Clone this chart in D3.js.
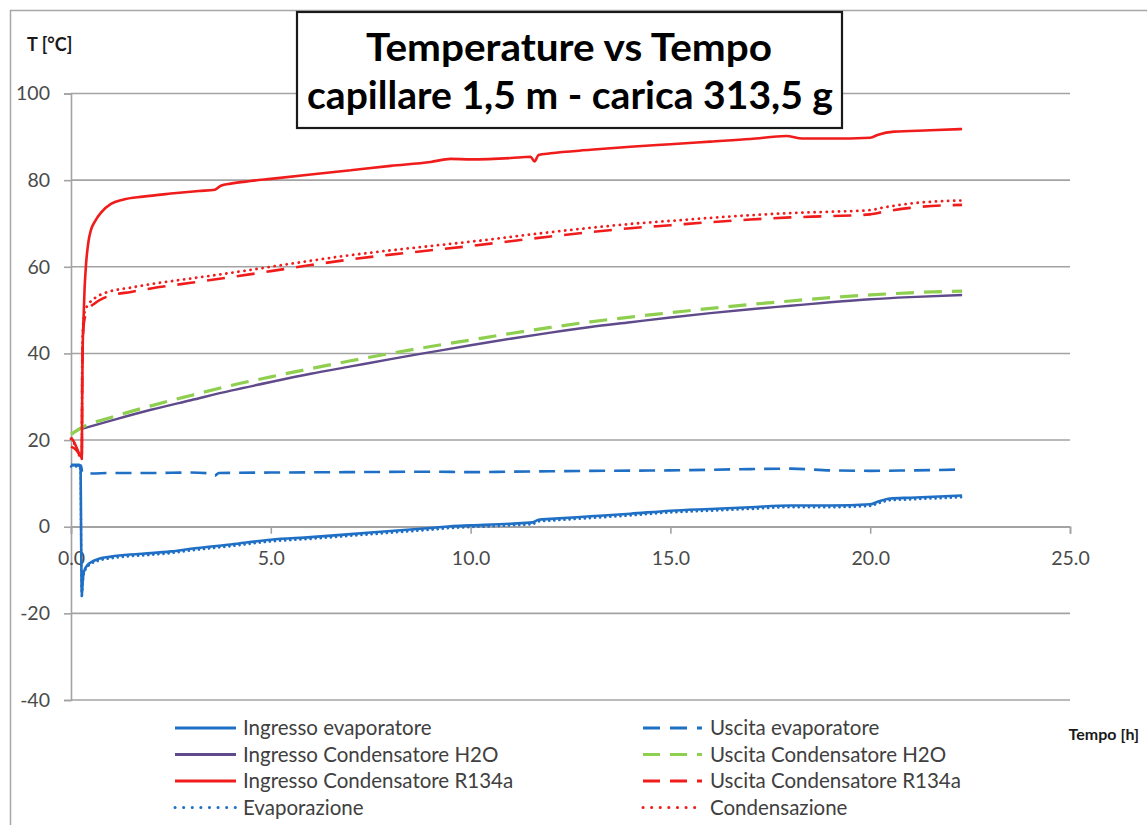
<!DOCTYPE html>
<html>
<head>
<meta charset="utf-8">
<script src="https://cdn.jsdelivr.net/npm/d3@7"></script>
<style>
  html, body { margin: 0; padding: 0; background: #fff; }
  svg { display: block; font-family: Lato, "Open Sans", sans-serif; }
</style>
</head>
<body>
<svg id="chart" width="1147" height="825"></svg>
<script>
// Temperature readings [time in h, temperature in °C] for each measuring point
const ingressoEvaporatore = [[0,14.3],[0.2,14.3],[0.24,13.5],[0.25,2],[0.26,-10],[0.27,-16],[0.29,-13],[0.32,-10.5],[0.4,-9],[0.5,-8.2],[0.7,-7.4],[1,-6.9],[1.5,-6.4],[2,-6.1],[2.5,-5.7],[3,-5.1],[4,-4.1],[5,-3.0],[6,-2.4],[7,-1.7],[8,-1.0],[9,-0.3],[9.5,0.1],[10,0.3],[11,0.7],[11.55,1.0],[11.7,1.6],[12,1.8],[13,2.4],[14,3.0],[15,3.7],[16,4.1],[17,4.5],[18,4.9],[19,4.9],[20,5.2],[20.2,5.8],[20.5,6.5],[21,6.7],[22.3,7.2]];
const uscitaEvaporatore = [[0,14.2],[0.25,14.1],[0.28,12.6],[0.5,12.3],[1,12.4],[2,12.4],[3,12.5],[3.5,12.3],[3.6,11.8],[3.7,12.4],[5,12.5],[7,12.6],[9,12.7],[10,12.6],[11,12.7],[12,12.8],[13,12.9],[15,13.0],[17,13.3],[18,13.4],[19,13.0],[20,12.9],[21,13.0],[22.3,13.2]];
const ingressoCondH2O = [[0.27,22.6],[1,24.5],[2,27],[3,29.2],[4,31.4],[5,33.4],[6,35.3],[7,37],[8,38.7],[9,40.3],[10,41.9],[11,43.4],[12,44.8],[13,46.1],[14,47.2],[15,48.3],[16,49.3],[17,50.2],[18,51],[19,51.8],[20,52.5],[21,53],[22.3,53.5]];
const uscitaCondH2O = [[0,21.3],[0.27,22.9],[1,25.2],[2,27.9],[3,30.3],[4,32.6],[5,34.6],[6,36.5],[7,38.3],[8,40],[9,41.6],[10,43.1],[11,44.6],[12,46],[13,47.3],[14,48.4],[15,49.4],[16,50.4],[17,51.3],[18,52.1],[19,52.9],[20,53.5],[21,54],[22.3,54.4]];
const ingressoCondR134a = [[0,18.5],[0.12,17.8],[0.22,16.6],[0.27,16],[0.28,30],[0.29,40],[0.31,47],[0.34,55],[0.38,61],[0.44,66],[0.5,68.5],[0.6,70.5],[0.75,72.5],[1,74.5],[1.3,75.5],[1.8,76.2],[2.5,76.9],[3.2,77.5],[3.6,77.8],[3.75,78.7],[4,79.2],[4.5,79.8],[5,80.3],[6,81.3],[7,82.3],[8,83.3],[9,84.2],[9.5,84.9],[10,84.8],[11,85.1],[11.5,85.4],[11.6,84.3],[11.7,85.8],[12,86.2],[13,87],[14,87.7],[15,88.3],[16,88.9],[17,89.5],[17.9,90.2],[18.3,89.6],[19,89.6],[20,89.8],[20.2,90.5],[20.6,91.2],[21.5,91.5],[22.3,91.8]];
const uscitaCondR134a = [[0,20.6],[0.08,19.5],[0.16,17.8],[0.24,16],[0.27,15.5],[0.28,35],[0.3,44],[0.34,48],[0.45,50.3],[0.6,51.6],[0.8,52.7],[1,53.4],[1.5,54.2],[2,55],[3,56.3],[4,57.6],[5,59],[6,60.4],[7,61.7],[8,62.8],[9,63.8],[10,64.8],[11,65.9],[12,67],[13,68],[14,68.9],[15,69.6],[16,70.3],[17,70.9],[18,71.4],[19,71.7],[20,72.1],[20.4,72.8],[21,73.6],[22.3,74.3]];
const evaporazione = [[0,13.9],[0.2,13.9],[0.24,13.1],[0.25,1.6],[0.26,-10.4],[0.27,-16.4],[0.29,-13.4],[0.32,-10.9],[0.4,-9.4],[0.5,-8.6],[0.7,-7.8],[1,-7.3],[1.5,-6.8],[2,-6.5],[2.5,-6.1],[3,-5.5],[4,-4.5],[5,-3.4],[6,-2.8],[7,-2.1],[8,-1.4],[9,-0.7],[9.5,-0.3],[10,-0.1],[11,0.3],[11.55,0.6],[11.7,1.2],[12,1.4],[13,2.0],[14,2.6],[15,3.3],[16,3.7],[17,4.1],[18,4.5],[19,4.5],[20,4.8],[20.2,5.4],[20.5,6.1],[21,6.3],[22.3,6.8]];
const condensazione = [[0,20.3],[0.08,19.2],[0.16,17.5],[0.24,15.8],[0.27,15.5],[0.28,38],[0.3,46],[0.34,49.5],[0.45,51.5],[0.6,52.8],[0.8,53.8],[1,54.4],[1.5,55.2],[2,56],[3,57.3],[4,58.6],[5,60],[6,61.4],[7,62.7],[8,63.8],[9,64.8],[10,65.8],[11,66.9],[12,68],[13,69],[14,69.9],[15,70.6],[16,71.3],[17,71.9],[18,72.4],[19,72.7],[20,73.1],[20.4,73.8],[21,74.6],[22.3,75.3]];

// Legend labels and axis ticks
const seriesNames = ["Ingresso evaporatore","Uscita evaporatore","Ingresso Condensatore H2O","Uscita Condensatore H2O","Ingresso Condensatore R134a","Uscita Condensatore R134a","Evaporazione","Condensazione"];
const xTicks = [0, 5, 10, 15, 20, 25];
const yTicks = [-40, -20, 0, 20, 40, 60, 80, 100];

const BLUE = "#1f6fc5", PURPLE = "#5f4a8b", GREEN = "#8fcf50", RED = "#f01c1c";
const styles = [
  { data: ingressoEvaporatore, color: BLUE,   width: 2.6, dash: null },
  { data: uscitaEvaporatore,   color: BLUE,   width: 2.6, dash: "16 9" },
  { data: ingressoCondH2O,     color: PURPLE, width: 2.4, dash: null },
  { data: uscitaCondH2O,       color: GREEN,  width: 3.2, dash: "18 10" },
  { data: ingressoCondR134a,   color: RED,    width: 2.6, dash: null },
  { data: uscitaCondR134a,     color: RED,    width: 2.6, dash: "18 12" },
  { data: evaporazione,        color: BLUE,   width: 2.6, dash: "0.1 5", cap: "round" },
  { data: condensazione,       color: RED,    width: 2.8, dash: "0.1 6", cap: "round" }
];

const svg = d3.select("#chart");

// outer chart frame
svg.append("rect").attr("x", 10.5).attr("y", 10.5).attr("width", 1160).attr("height", 840)
  .attr("fill", "#fff").attr("stroke", "#a6a6a6").attr("stroke-width", 1.5);

const x = d3.scaleLinear().domain([0, 25]).range([71, 1070]);
const y = d3.scaleLinear().domain([-40, 100]).range([700, 93.5]);

// horizontal gridlines
svg.append("g").selectAll("line").data(yTicks).join("line")
  .attr("x1", x(0)).attr("x2", x(25))
  .attr("y1", d => y(d)).attr("y2", d => y(d))
  .attr("stroke", "#a3a3a3").attr("stroke-width", 1.6);

// y axis (plain hyphen for negative values)
const yAxis = svg.append("g").attr("transform", `translate(${x(0)},0)`)
  .call(d3.axisLeft(y).tickValues(yTicks).tickSize(7).tickPadding(14).tickFormat(d => String(d)));
yAxis.select(".domain").attr("stroke", "#a3a3a3").attr("stroke-width", 1.6);
yAxis.selectAll(".tick line").attr("stroke", "#a3a3a3").attr("stroke-width", 1.6);
yAxis.selectAll("text").attr("fill", "#4a4a4a").style("font-size", "19.5px").style("font-family", "Lato");

// x axis crossing at 0 °C
const xAxis = svg.append("g").attr("transform", `translate(0,${y(0)})`)
  .call(d3.axisBottom(x).tickValues(xTicks).tickSize(7).tickPadding(17).tickFormat(d3.format(".1f")));
xAxis.select(".domain").attr("stroke", "#a3a3a3").attr("stroke-width", 1.6);
xAxis.selectAll(".tick line").attr("stroke", "#a3a3a3").attr("stroke-width", 1.6);
xAxis.selectAll("text").attr("fill", "#4a4a4a").style("font-size", "19.5px").style("font-family", "Lato");

// series lines
const line = d3.line().x(d => x(d[0])).y(d => y(d[1])).curve(d3.curveMonotoneX);
svg.append("g").selectAll("path").data(styles).join("path")
  .attr("d", d => line(d.data))
  .attr("fill", "none")
  .attr("stroke", d => d.color)
  .attr("stroke-width", d => d.width)
  .attr("stroke-dasharray", d => d.dash)
  .attr("stroke-linecap", d => d.cap || "butt")
  .attr("stroke-linejoin", "round");

// axis titles
svg.append("text").attr("x", 27).attr("y", 51).text("T [°C]")
  .style("font-size", "18px").style("font-weight", "bold").attr("fill", "#1a1a1a");
svg.append("text").attr("x", 1139).attr("y", 740).attr("text-anchor", "end").text("Tempo [h]")
  .style("font-size", "16px").style("font-weight", "bold").attr("fill", "#1a1a1a");

// title box
svg.append("rect").attr("x", 297).attr("y", 12).attr("width", 545).attr("height", 116)
  .attr("fill", "#fff").attr("stroke", "#1a1a1a").attr("stroke-width", 2.2);
svg.append("text").attr("x", 569).attr("y", 61).attr("text-anchor", "middle")
  .attr("textLength", 406).attr("lengthAdjust", "spacingAndGlyphs")
  .text("Temperature vs Tempo").style("font-size", "39px").style("font-weight", "bold").attr("fill", "#000");
svg.append("text").attr("x", 570).attr("y", 109).attr("text-anchor", "middle")
  .attr("textLength", 526).attr("lengthAdjust", "spacingAndGlyphs")
  .text("capillare 1,5 m - carica 313,5 g").style("font-size", "39px").style("font-weight", "bold").attr("fill", "#000");

// legend: two columns, four rows
const legendCols = [{ x1: 175, x2: 236, tx: 243 }, { x1: 643, x2: 702, tx: 710 }];
const rowY = [728, 754.5, 781, 807.5];
const legend = svg.append("g");
styles.forEach((s, i) => {
  const col = legendCols[i % 2], ry = rowY[Math.floor(i / 2)];
  legend.append("line").attr("x1", col.x1).attr("x2", col.x2).attr("y1", ry).attr("y2", ry)
    .attr("stroke", s.color).attr("stroke-width", 3)
    .attr("stroke-dasharray", s.dash ? (s.cap ? "0.1 8.5" : "17 10") : null)
    .attr("stroke-linecap", s.cap || "butt");
  legend.append("text").attr("x", col.tx).attr("y", ry + 7).text(seriesNames[i])
    .style("font-size", "20.5px").attr("fill", "#404040");
});
</script>
</body>
</html>
